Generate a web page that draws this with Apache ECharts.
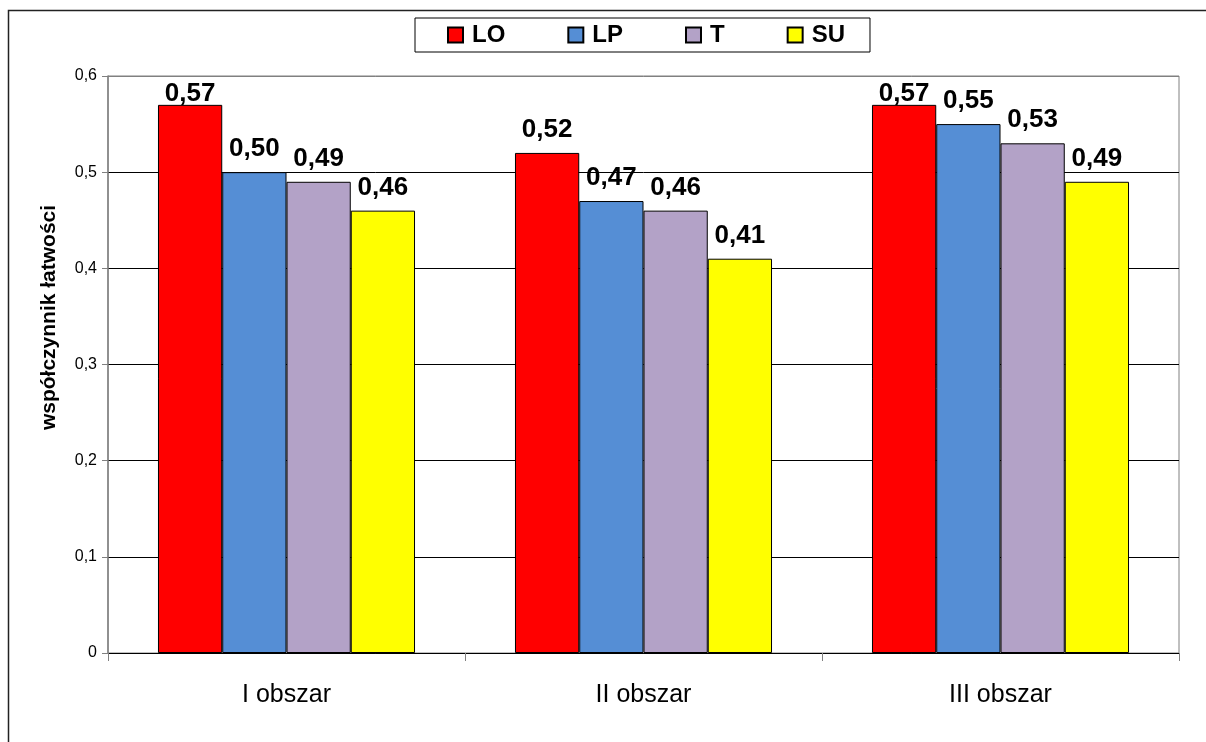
<!DOCTYPE html>
<html>
<head>
<meta charset="utf-8">
<script src="https://cdn.jsdelivr.net/npm/echarts@6/dist/echarts.min.js"></script>
<style>
  html, body { margin: 0; padding: 0; background: #fff; }
  #chart { width: 1206px; height: 742px; }
</style>
</head>
<body>
<div id="chart"></div>
<script>
// dane wykresu
let categories = ['I obszar', 'II obszar', 'III obszar'];
let seriesNames = ['LO', 'LP', 'T', 'SU'];
let valuesLO = [0.57, 0.52, 0.57];
let valuesLP = [0.50, 0.47, 0.55];
let valuesT = [0.49, 0.46, 0.53];
let valuesSU = [0.46, 0.41, 0.49];
let yTicks = [0, 0.1, 0.2, 0.3, 0.4, 0.5, 0.6];

let colors = ['#ff0000', '#558ed5', '#b3a2c7', '#ffff00'];
let fontName = 'Arial, "Liberation Sans", sans-serif';

// przecinek zamiast kropki
function comma(v, digits) {
    if (v === 0) return '0';
    return v.toFixed(digits).replace('.', ',');
}

let myChart = echarts.init(document.getElementById('chart'));

let allValues = [valuesLO, valuesLP, valuesT, valuesSU];
let series = seriesNames.map(function(name, i) {
    return {
        name: name,
        type: 'bar',
        data: allValues[i],
        barGap: '0%',
        barCategoryGap: '28%',
        itemStyle: {
            color: colors[i],
            borderColor: '#000',
            borderWidth: 1
        },
        label: {
            show: true,
            position: 'top',
            distance: 10,
            fontFamily: fontName,
            fontWeight: 'bold',
            fontSize: 26,
            color: '#000',
            formatter: function(p) {
                return comma(p.value, 2);
            }
        }
    };
});

let option = {
    animation: false,
    textStyle: { fontFamily: fontName },
    graphic: [{
        // ramka całego wykresu
        type: 'rect',
        shape: { x: 8.5, y: 10.5, width: 1400, height: 1000 },
        style: { fill: 'none', stroke: '#222', lineWidth: 1.5 },
        z: -10
    }],
    legend: {
        left: 415,
        top: 18,
        padding: [5, 25, 5, 32],
        itemGap: 62,
        itemWidth: 15,
        itemHeight: 15,
        icon: 'rect',
        backgroundColor: '#fff',
        borderColor: '#000',
        borderWidth: 1,
        textStyle: {
            fontFamily: fontName,
            fontWeight: 'bold',
            fontSize: 24,
            color: '#000',
            padding: [0, 0, 0, 4]
        },
        data: seriesNames
    },
    grid: {
        left: 108,
        right: 27,
        top: 76,
        bottom: 89,
        show: true,
        borderColor: '#808080',
        borderWidth: 1
    },
    xAxis: {
        type: 'category',
        data: categories,
        axisLine: { lineStyle: { color: '#000', width: 1 } },
        axisTick: { show: true, length: 8, lineStyle: { color: '#808080' } },
        axisLabel: {
            fontFamily: fontName,
            fontSize: 25,
            color: '#000',
            margin: 30
        }
    },
    yAxis: {
        type: 'value',
        min: yTicks[0],
        max: yTicks[yTicks.length - 1],
        interval: 0.1,
        name: 'współczynnik łatwości',
        nameLocation: 'middle',
        nameGap: 48,
        nameTextStyle: {
            fontFamily: fontName,
            fontWeight: 'bold',
            fontSize: 21,
            color: '#000',
            padding: [0, 0, 0, 94]
        },
        axisLine: { show: true, lineStyle: { color: '#808080', width: 1.5 } },
        axisTick: { show: true, length: 6, lineStyle: { color: '#808080' } },
        axisLabel: {
            fontFamily: fontName,
            fontSize: 16,
            color: '#000',
            margin: 11,
            formatter: function(v) {
                return comma(v, 1);
            }
        },
        splitLine: {
            show: true,
            lineStyle: {
                color: ['#000', '#000', '#000', '#000', '#000', '#000', '#808080'],
                width: 1
            }
        }
    },
    series: series
};

myChart.setOption(option);

// etykiety nie wychodzą ponad obszar wykresu (jak w Excelu)
let topPx = myChart.convertToPixel({ yAxisIndex: 0 }, yTicks[yTicks.length - 1]);
let newSeries = allValues.map(function(vals) {
    return {
        data: vals.map(function(v) {
            let barTop = myChart.convertToPixel({ yAxisIndex: 0 }, v);
            let room = barTop - topPx - 31;
            return { value: v, label: { distance: Math.min(10, room) } };
        })
    };
});
myChart.setOption({ series: newSeries });
</script>
</body>
</html>
